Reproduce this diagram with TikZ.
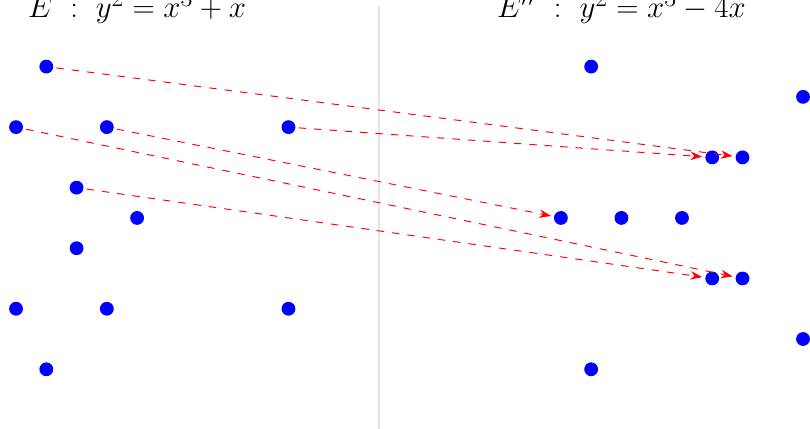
\documentclass[tikz,border=0pt]{standalone}
\usetikzlibrary{arrows.meta}
\tikzset{
  pt/.style={circle, fill=blue, minimum size=13pt, inner sep=0pt, outer sep=3pt},
  isog/.style={-{Stealth[length=11pt,width=8pt]}, red, line width=0.9pt, dash pattern=on 7pt off 7.5pt},
  curvename/.style={anchor=base, font=\Huge, scale=1.165}
}
\begin{document}
\begin{tikzpicture}[x=1.0cm, y=1.0cm]
    \useasboundingbox (-4.53,-6.94) rectangle (22.23,7.2);
    % Trennlinie
    \draw[gray!20, line width=1.8pt] (8,7) -- (8,-7);

    % Kurven
    \node[curvename] (tE) at (0,6.62) {$E\ :\ y^2 = x^3 + x$};
    \node[curvename] (tEpp) at (16,6.62) {$E''\ :\ y^2 = x^3 - 4x$};

    % Punkte auf E
    \node[pt] (P1) at (-3,5) {};
    \node[pt] (P2) at (-4,3) {};
    \node[pt] (P3) at (-1,3) {};
    \node[pt] (P4) at (5,3) {};
    \node[pt] (P5) at (-2,1) {};
    \node[pt] (P6) at (0,0) {};
    \node[pt] (P7) at (-2,-1) {};
    \node[pt] (P8) at (-4,-3) {};
    \node[pt] (P9) at (-1,-3) {};
    \node[pt] (P10) at (5,-3) {};
    \node[pt] (P11) at (-3,-5) {};

    % Punkte auf E''
    \node[pt] (Q1) at (15,5) {};
    \node[pt] (Q2) at (22,4) {};
    \node[pt] (Q3) at (19,2) {};
    \node[pt] (Q4) at (20,2) {};
    \node[pt] (Q5) at (14,0) {};
    \node[pt] (Q6) at (16,0) {};
    \node[pt] (Q7) at (18,0) {};
    \node[pt] (Q8) at (19,-2) {};
    \node[pt] (Q9) at (20,-2) {};
    \node[pt] (Q10) at (22,-4) {};
    \node[pt] (Q11) at (15,-5) {};

    % Isogenie
    \draw[isog] (P1) -- (Q4);
    \draw[isog] (P4) -- (Q3);
    \draw[isog] (P2) -- (Q9);
    \draw[isog] (P3) -- (Q5);
    \draw[isog] (P5) -- (Q8);
\end{tikzpicture}
\end{document}
